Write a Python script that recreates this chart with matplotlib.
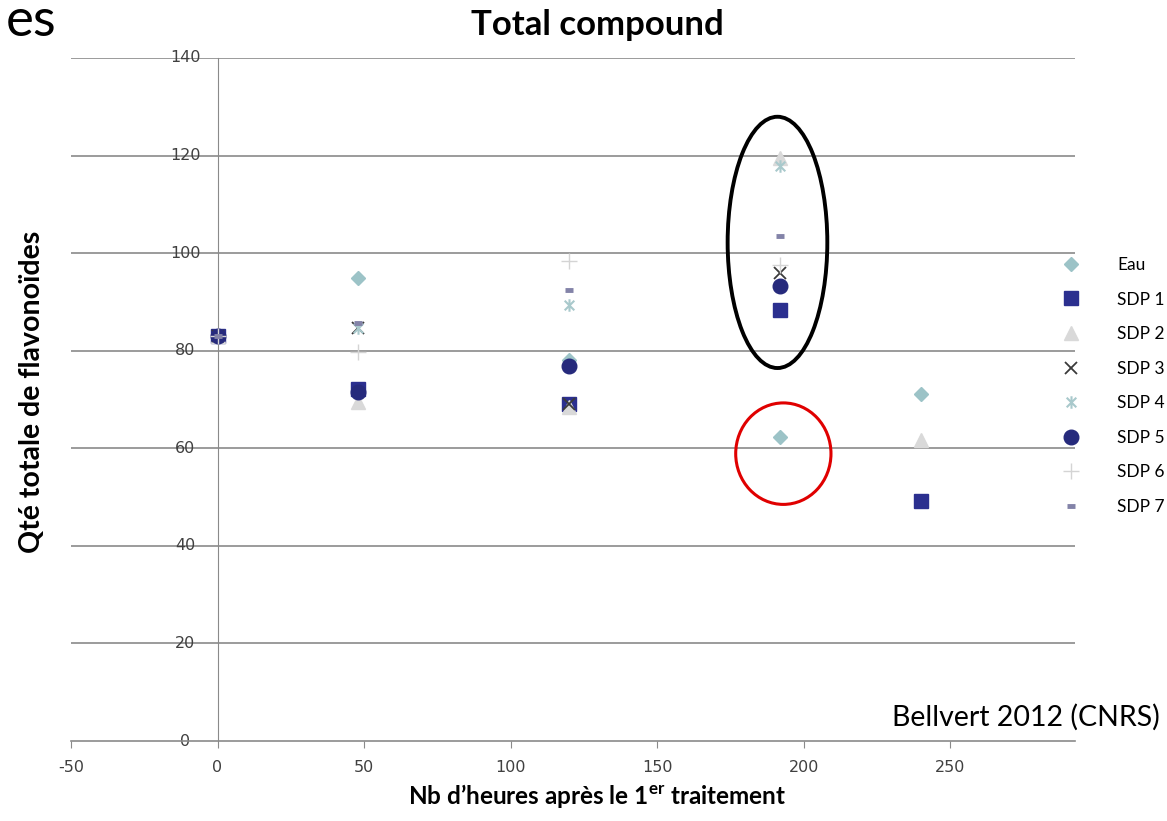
import numpy as np
import matplotlib
matplotlib.use("Agg")
import matplotlib.pyplot as plt
from matplotlib.patches import Ellipse
from matplotlib.path import Path

plt.rcParams["mathtext.fontset"] = "custom"
plt.rcParams["mathtext.rm"] = "Lato"
plt.rcParams["mathtext.bf"] = "Lato:bold"

# ===== data =====
hours = [0, 48, 120, 192, 240]
eau  = [83, 95.0, 78.0, 62.3, 71.2]
sdp1 = [83, 72.2, 69.0, 88.3, 49.1]
sdp2 = [83, 69.5, 68.5, 119.5, 61.8]
sdp3 = [83, 84.6, 69.0, 96.0, np.nan]
sdp4 = [83, 84.6, 89.3, 117.8, np.nan]
sdp5 = [83, 71.5, 76.8, 93.2, np.nan]
sdp6 = [83, 79.8, 98.3, 97.5, np.nan]
sdp7 = [83, 85.6, 92.5, 103.6, np.nan]
names = ["Eau", "SDP 1", "SDP 2", "SDP 3", "SDP 4", "SDP 5", "SDP 6", "SDP 7"]

x_ticks = [-50, 0, 50, 100, 150, 200, 250]
y_ticks = [0, 20, 40, 60, 80, 100, 120, 140]

# Excel style "star": x plus a vertical bar
star = Path([(-1, -1), (1, 1), (-1, 1), (1, -1), (0, -1.3), (0, 1.3)],
            [Path.MOVETO, Path.LINETO, Path.MOVETO, Path.LINETO, Path.MOVETO, Path.LINETO])

styles = [
    dict(marker="D", ms=7.5, color="#9cc3c7", mec="#9cc3c7"),
    dict(marker="s", ms=10.5, color="#2b2f8f", mec="#2b2f8f"),
    dict(marker="^", ms=10.5, color="#d9d9d9", mec="#d9d9d9"),
    dict(marker="x", ms=9, color="#3a3a3a", mew=1.3),
    dict(marker=star, ms=9, color="#a9c9cc", mew=1.5),
    dict(marker="o", ms=10.5, color="#262a7c", mec="#262a7c"),
    dict(marker="+", ms=12, color="#d4d4d4", mew=1.0),
    dict(marker="_", ms=6, color="#8383a8", mew=3.5),
]
series = [eau, sdp1, sdp2, sdp3, sdp4, sdp5, sdp6, sdp7]

fig = plt.figure(figsize=(11.67, 8.21), dpi=100)
ax = fig.add_axes([0.0608, 0.0974, 0.8604, 0.832])

for vals, name, st in zip(series, names, styles):
    ax.plot(hours, vals, linestyle="none", label=name, zorder=3, **st)

ax.set_xlim(-50, 292.5)
ax.set_ylim(0, 140)

# horizontal gridlines
for yv in y_ticks[1:]:
    ax.axhline(yv, color="#8a8a8a", lw=1.2, zorder=1)

ax.spines["top"].set_visible(False)
ax.spines["right"].set_visible(False)
ax.spines["left"].set_position(("data", 0))
ax.spines["left"].set_color("#8a8a8a")
ax.spines["bottom"].set_color("#8a8a8a")
ax.spines["bottom"].set_linewidth(1.2)

ax.set_xticks(x_ticks)
ax.set_xticklabels([str(v) for v in x_ticks], fontsize=11.5, color="#404040")
ax.tick_params(axis="x", direction="out", length=5, color="#8a8a8a", pad=9)
ax.set_yticks([])
for yv in y_ticks:
    ax.text(-11, yv, str(yv), ha="center", va="center", fontsize=11.5,
            color="#404040", zorder=2)

# annotations on the slide
ax.add_patch(Ellipse((191, 102.2), 34, 51.5, fill=False, ec="black", lw=2.8, zorder=4))
ax.add_patch(Ellipse((193, 58.9), 32.5, 20.8, fill=False, ec="#e00000", lw=2.2, zorder=4))

fig.text(0.5116, 0.969, "Total compound", ha="center", va="center",
         fontsize=25, fontweight="bold", family="Lato")
fig.text(0.027, 0.5225, "Qté totale de flavonoïdes", rotation=90, ha="center",
         va="center", fontsize=20.5, fontweight="bold", family="Lato")
fig.text(0.5116, 0.031, "Nb d\u2019heures après le 1$^{\\mathbf{er}}$ traitement",
         ha="center", va="center", fontsize=17.5, fontweight="bold", family="Lato")
fig.text(0.994, 0.126, "Bellvert 2012 (CNRS)", ha="right", va="center",
         fontsize=20.5, family="Lato")
fig.text(0.048, 1 - 36 / 821, "es", ha="right", va="baseline", fontsize=38, family="Lato")

ax.legend(loc="upper left", bbox_to_anchor=(0.898, 0.706), bbox_transform=fig.transFigure,
          frameon=False, labelspacing=1.07, handletextpad=2.2,
          handlelength=0.9, prop={"family": "Lato", "size": 12.5})

fig.savefig("out.png", dpi=100)
